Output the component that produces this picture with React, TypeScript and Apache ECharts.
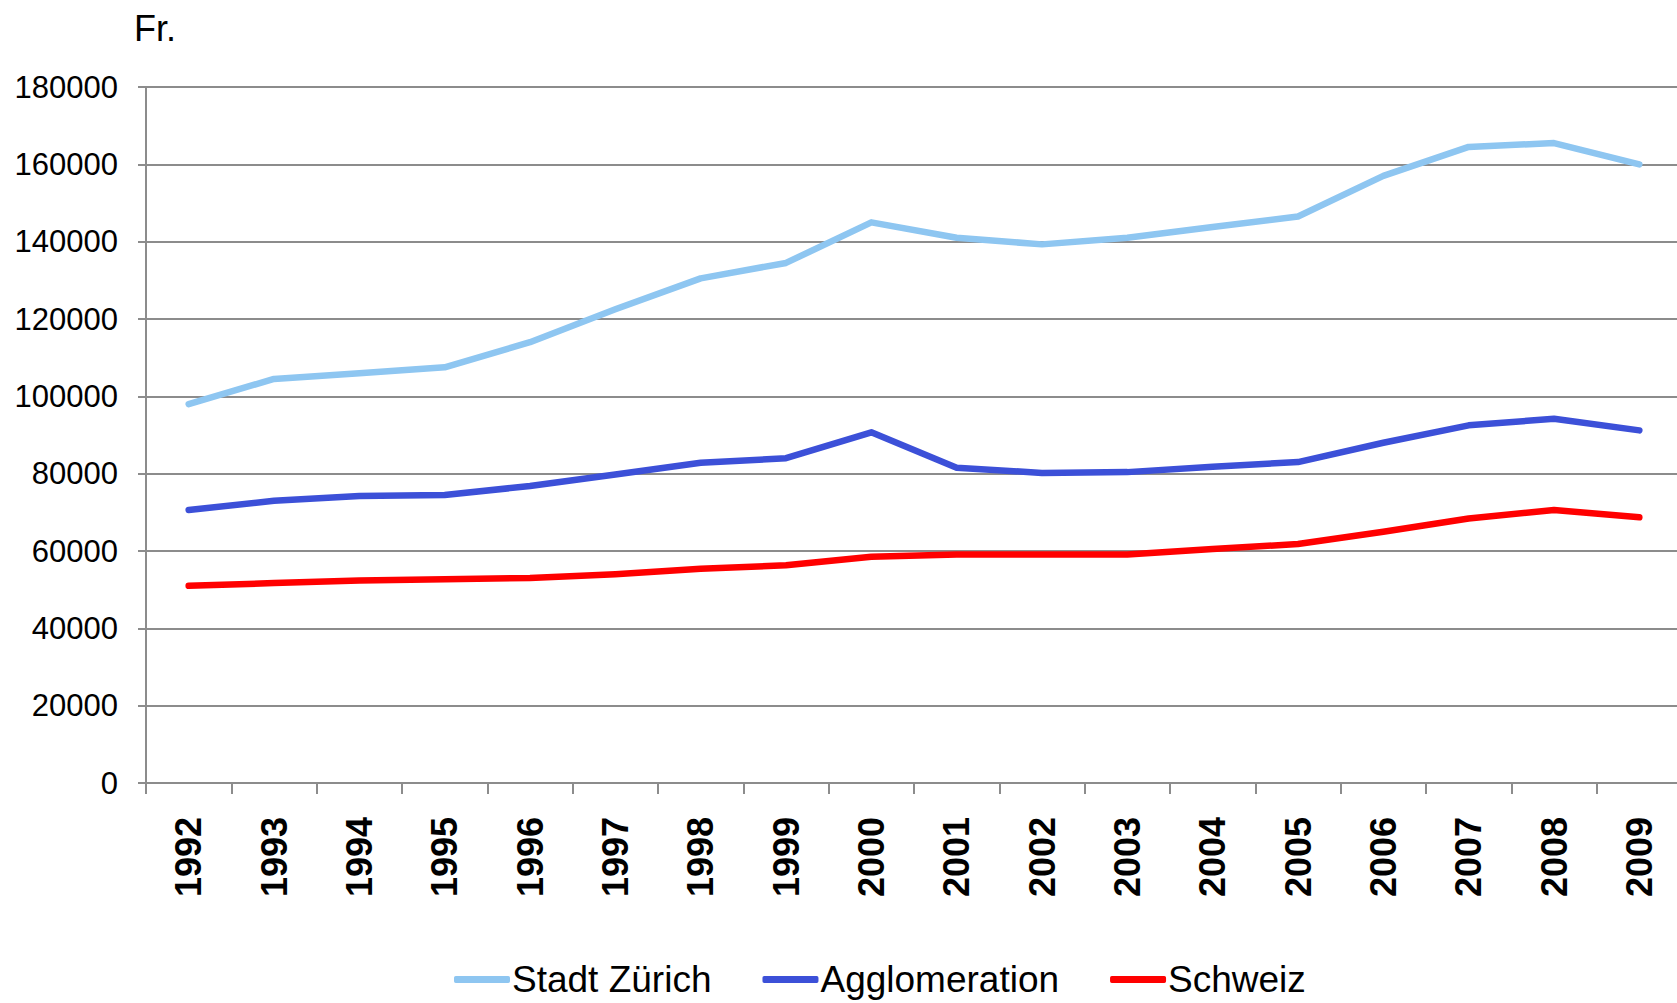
import React, { useEffect, useRef } from "react";
import * as echarts from "echarts";

const years = ["1992","1993","1994","1995","1996","1997","1998","1999","2000","2001","2002","2003","2004","2005","2006","2007","2008","2009"];
const stadtZuerich = [98000,104500,106000,107500,114000,122500,130500,134500,145000,141000,139300,141000,143800,146500,157000,164500,165500,160000];
const agglomeration = [70600,73000,74200,74500,76800,79800,82800,84000,90700,81500,80200,80400,81800,83000,88000,92500,94200,91200];
const schweiz = [51000,51700,52400,52700,53000,54000,55400,56300,58500,59100,59100,59100,60500,61800,65000,68400,70600,68700];
const seriesNames = ["Stadt Zürich", "Agglomeration", "Schweiz"];
const seriesColors = ["#8EC6F1", "#3C50D8", "#FF0000"];
const unitLabel = "Fr.";

const FONT = "'Liberation Sans', Arial, Helvetica, sans-serif";

export default function App() {
  const ref = useRef<HTMLDivElement>(null);
  useEffect(() => {
    if (!ref.current) return;
    const chart = echarts.init(ref.current, null, { renderer: "svg" });
    const data = [stadtZuerich, agglomeration, schweiz];
    chart.setOption({
      animation: false,
      backgroundColor: "#ffffff",
      textStyle: { fontFamily: FONT },
      grid: { left: 146, top: 87, width: 1536, height: 696, containLabel: false, outerBoundsMode: "none" },
      graphic: [
        { type: "text", left: 134, top: 10, style: { text: unitLabel, font: `36px ${FONT}`, fill: "#000" } },
      ],
      legend: {
        left: 449,
        top: 956,
        itemWidth: 56,
        itemHeight: 7,
        itemGap: 51,
        icon: "roundRect",
        textStyle: { fontSize: 37, color: "#000", fontFamily: FONT, padding: [0, 0, 0, -3] },
        data: seriesNames,
      },
      xAxis: {
        type: "category",
        data: years,
        boundaryGap: true,
        axisLine: { lineStyle: { color: "#8c8c8c", width: 2 } },
        axisTick: { show: true, length: 11, inside: false, lineStyle: { color: "#8c8c8c", width: 2 } },
        axisLabel: { rotate: 90, fontSize: 36, fontWeight: "bold", color: "#000", margin: 34, fontFamily: FONT },
      },
      yAxis: {
        type: "value",
        min: 0,
        max: 180000,
        interval: 20000,
        axisLine: { show: true, lineStyle: { color: "#8c8c8c", width: 2 } },
        axisTick: { show: true, length: 8, lineStyle: { color: "#8c8c8c", width: 2 } },
        splitLine: { show: true, lineStyle: { color: "#8c8c8c", width: 2 } },
        axisLabel: { fontSize: 31, color: "#000", margin: 28, fontFamily: FONT, formatter: (v: number) => String(v) },
      },
      series: seriesNames.map((name, i) => ({
        name,
        type: "line",
        data: data[i],
        showSymbol: false,
        symbol: "none",
        color: seriesColors[i],
        lineStyle: { width: 6.5, color: seriesColors[i], cap: "round", join: "round" },
        itemStyle: { color: seriesColors[i] },
      })),
    });
    return () => chart.dispose();
  }, []);
  return (
    <div
      ref={ref}
      style={{ position: "fixed", left: 0, top: 0, width: 1677, height: 1003, background: "#fff" }}
    />
  );
}
